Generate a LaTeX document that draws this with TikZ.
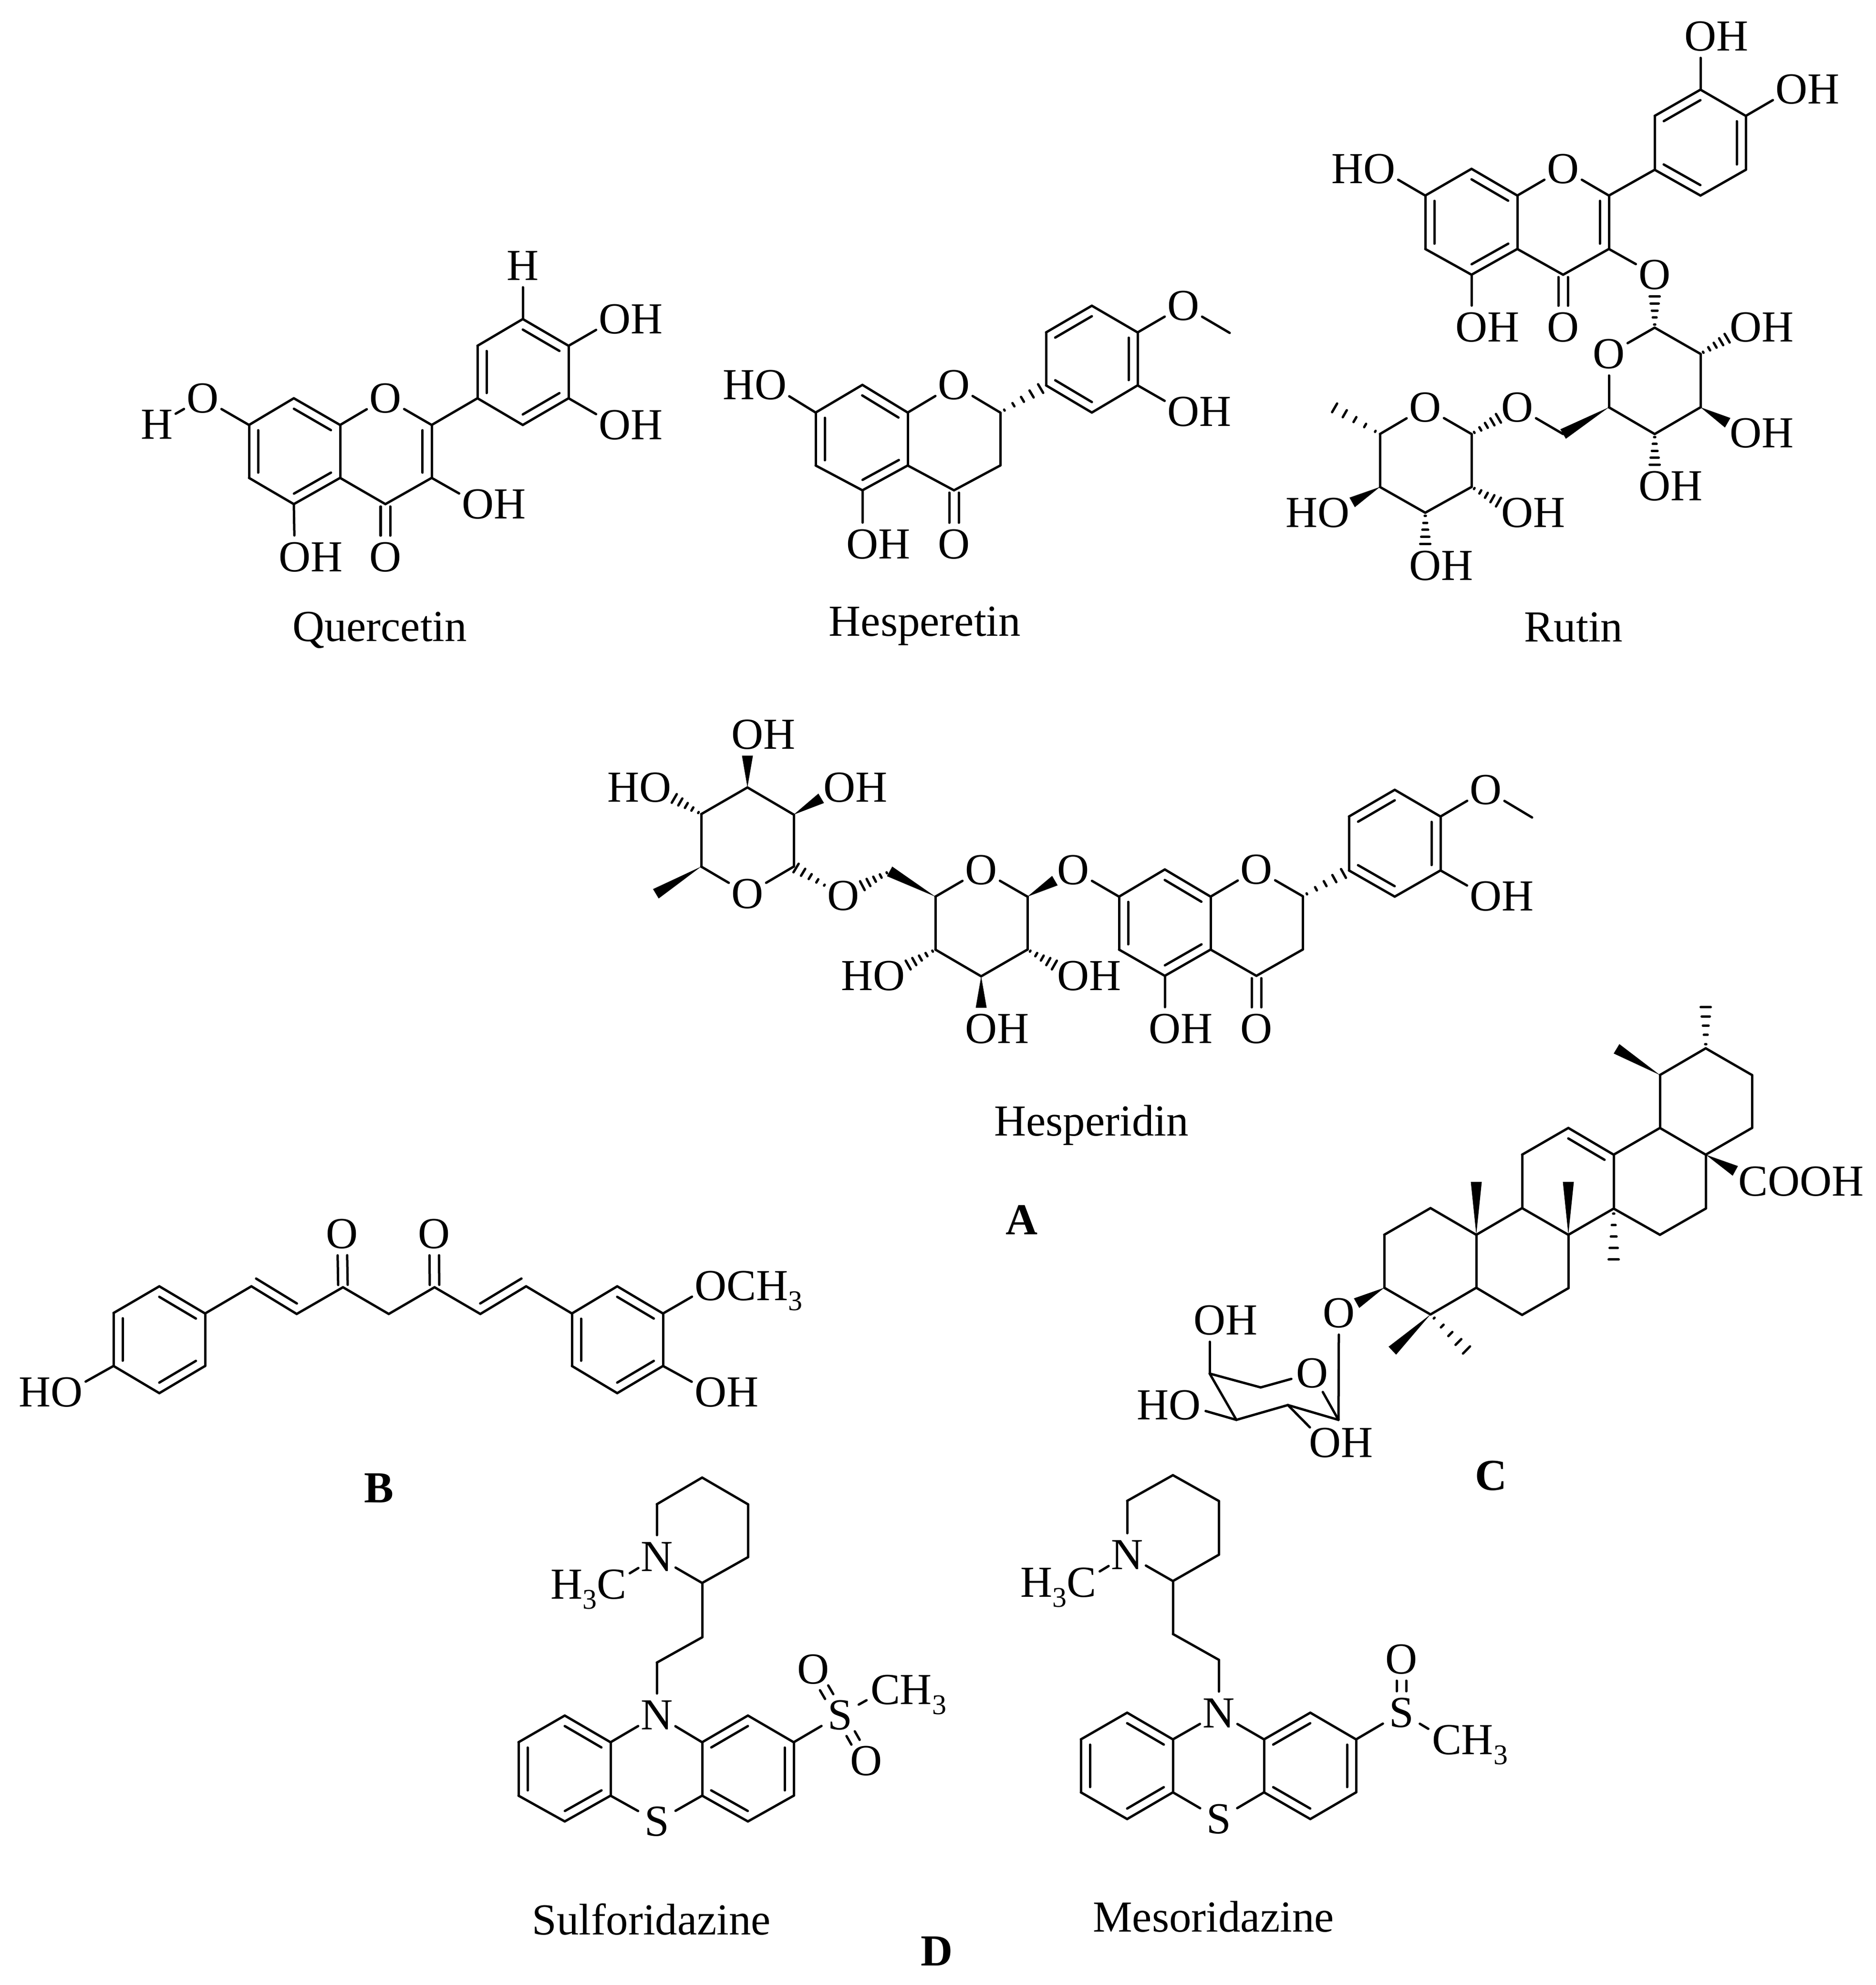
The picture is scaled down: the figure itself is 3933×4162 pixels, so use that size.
\documentclass[tikz,border=0pt]{standalone}
\usepackage{fontspec}
\setmainfont{Liberation Serif}
\usetikzlibrary{calc}
\newcommand{\chemfont}{\fontsize{26.4}{30}\selectfont}
\newcommand{\lowthree}{\raisebox{-6pt}{\fontsize{17}{20}\selectfont 3}}
\newcommand{\atomOH}{O\rlap{H}}
\newcommand{\atomHO}{\llap{H}O}
\newcommand{\atomOM}{O\rlap{CH\lowthree}}
\newcommand{\atomCM}{C\rlap{H\lowthree}}
\newcommand{\atomMC}{\llap{H\lowthree}C}
\tikzset{
    bond/.style={line width=0.05cm,line cap=round,line join=round},
    atom/.style={circle,inner sep=0pt,outer sep=0pt,minimum size=0.9cm,font=\chemfont,text height=17.4pt,text depth=0pt},
    caption/.style={inner sep=0pt,anchor=base,font=\chemfont},
    letter/.style={inner sep=0pt,anchor=base,font=\chemfont\bfseries}
}
% ring double bond, the short line lies to the right of a->b
\newcommand{\dblbond}[4]{
    \draw[bond] (#1) -- (#2);
    \coordinate (p) at ($(#1)!0.19cm!-90:(#2)$);
    \coordinate (q) at ($(#2)!0.19cm!90:(#1)$);
    \draw[bond] ($(p)!#3!(q)$) -- ($(p)!#4!(q)$);
}
\newcommand{\ringbond}[2]{\dblbond{#1}{#2}{.1}{.9}}
% double bond to a hetero atom, two equal lines
\newcommand{\twolines}[4]{
    \draw[bond,shorten <=#3,shorten >=#4] ($(#1)!0.1cm!90:(#2)$) -- ($(#2)!0.1cm!-90:(#1)$);
    \draw[bond,shorten <=#3,shorten >=#4] ($(#1)!0.1cm!-90:(#2)$) -- ($(#2)!0.1cm!90:(#1)$);
}
\newcommand{\wedgebond}[3]{
    \coordinate (w) at ($(#1)!#3!(#2)$);
    \fill (#1) -- ($(w)!0.115cm!90:(#1)$) -- ($(w)!0.115cm!-90:(#1)$) -- cycle;
}
\newcommand{\hashbond}[3]{
    \coordinate (w) at ($(#1)!#3!(#2)$);
    \foreach \f/\h in {.1/.012,.32/.04,.54/.06,.76/.085,.98/.105}
        \draw[bond] ($(#1)!\f!(w)!\h cm!90:(w)$) -- ($(#1)!\f!(w)!\h cm!-90:(w)$);
}
\begin{document}
\begin{tikzpicture}[x=0.01cm,y=-0.01cm]
    \useasboundingbox (0,0) rectangle (3933,4162);
    % quercetin
    \foreach \n/\x/\y in {qa1/522/891,qa2/616/835,qa3/713/891,qa4/713/1002,qa5/616/1057,qa6/522/1002,
        qc2/905/891,qc3/905/1002,qc4/808/1057,qb1/1001/835,qb2/1001/725,qb3/1096/669,qb4/1192/725,qb5/1192/835,qb6/1096/891}
        \coordinate (\n) at (\x,\y);
    \foreach \n/\x/\y/\t in {qo1/808/835/O,qo2/808/1168/O,qo3/425/835/O,qh1/329/890/H,qh2/1096/557/H,
        qo4/1289/669/\atomOH,qo5/1289/891/\atomOH,qo6/1002/1057/\atomOH,qo7/618/1168/\atomOH}
        \node[atom] (\n) at (\x,\y) {\t};
    \foreach \a/\b in {qa1/qa2,qa3/qa4,qa5/qa6,qa3/qo1,qo1/qc2,qc3/qc4,qc4/qa4,qa1/qo3,qo3/qh1,qc2/qb1,qb2/qb3,qb4/qb5,qb6/qb1,
        qb3/qh2,qb4/qo4,qb5/qo5,qc3/qo6,qa5/qo7}
        \draw[bond] (\a) -- (\b);
    \foreach \a/\b in {qa2/qa3,qa4/qa5,qa6/qa1,qc2/qc3,qb1/qb2,qb3/qb4,qb5/qb6}
        \ringbond{\a}{\b};
    \twolines{qc4}{qo2}{0.05cm}{0.45cm}
    \node[caption] (qname) at (796,1344) {Quercetin};
    % hesperetin
    \foreach \n/\x/\y in {hsa1/1710/865,hsa2/1808/807,hsa3/1903/865,hsa4/1903/976,hsa5/1808/1028,hsa6/1710/976,
        hsc2/2097/865,hsc3/2097/976,hsc4/2000/1028,hsb1/2193/808,hsb2/2193/697,hsb3/2289/641,hsb4/2385/697,hsb5/2385/808,hsb6/2289/865,hsm/2578/698}
        \coordinate (\n) at (\x,\y);
    \foreach \n/\x/\y/\t in {hso1/2000/807/O,hso2/2000/1141/O,hso3/1616/807/\atomHO,hso4/1808/1141/\atomOH,hso5/2481/641/O,hso6/2481/863/\atomOH}
        \node[atom] (\n) at (\x,\y) {\t};
    \foreach \a/\b in {hsa1/hsa2,hsa3/hsa4,hsa5/hsa6,hsa3/hso1,hso1/hsc2,hsc2/hsc3,hsc3/hsc4,hsc4/hsa4,hsa1/hso3,hsa5/hso4,
        hsb1/hsb2,hsb3/hsb4,hsb5/hsb6,hsb4/hso5,hso5/hsm,hsb5/hso6}
        \draw[bond] (\a) -- (\b);
    \foreach \a/\b in {hsa2/hsa3,hsa4/hsa5,hsa6/hsa1,hsb2/hsb3,hsb4/hsb5,hsb6/hsb1}
        \ringbond{\a}{\b};
    \hashbond{hsc2}{hsb1}{.9}
    \twolines{hsc4}{hso2}{0.05cm}{0.45cm}
    \node[caption] (hsname) at (1939,1333) {Hesperetin};
    % rutin
    \foreach \n/\x/\y in {rta1/2988/410,rta2/3085/354,rta3/3181/410,rta4/3181/522,rta5/3085/576,rta6/2988/522,
        rtc2/3373/410,rtc3/3373/522,rtc4/3277/576,rtb1/3469/356,rtb2/3469/243,rtb3/3565/188,rtb4/3660/243,rtb5/3660/356,rtb6/3565/410,
        rts1/3469/687,rts2/3565/742,rts3/3565/854,rts4/3469/910,rts5/3373/854,rtch/3277/910,
        rtr1/3085/910,rtr2/3085/1021,rtr3/2988/1075,rtr4/2893/1021,rtr5/2893/910,rtm/2796/854}
        \coordinate (\n) at (\x,\y);
    \foreach \n/\x/\y/\t in {rto1/3277/354/O,rto2/3277/686/O,rto3/2892/354/\atomHO,rto4/3085/686/\atomOH,rto5/3565/76/\atomOH,
        rto6/3756/187/\atomOH,rto7/3469/576/O,rto8/3373/742/O,rto9/3660/686/\atomOH,rto10/3660/908/\atomOH,rto11/3469/1019/\atomOH,
        rto12/3181/854/O,rto13/2988/854/O,rto14/2796/1075/\atomHO,rto15/3181/1075/\atomOH,rto16/2988/1186/\atomOH}
        \node[atom] (\n) at (\x,\y) {\t};
    \foreach \a/\b in {rta1/rta2,rta3/rta4,rta5/rta6,rta3/rto1,rto1/rtc2,rtc3/rtc4,rtc4/rta4,rta1/rto3,rta5/rto4,rtc2/rtb1,
        rtb1/rtb2,rtb3/rtb4,rtb5/rtb6,rtb3/rto5,rtb4/rto6,rtc3/rto7,rts1/rto8,rto8/rts5,rts1/rts2,rts2/rts3,rts3/rts4,rts4/rts5,
        rtch/rto12,rtr1/rto13,rto13/rtr5,rtr5/rtr4,rtr4/rtr3,rtr3/rtr2,rtr2/rtr1}
        \draw[bond] (\a) -- (\b);
    \foreach \a/\b in {rta2/rta3,rta4/rta5,rta6/rta1,rtc2/rtc3,rtb2/rtb3,rtb4/rtb5,rtb6/rtb1}
        \ringbond{\a}{\b};
    \foreach \a/\b/\f in {rts1/rto7/.6,rts2/rto9/.6,rts4/rto11/.6,rtr1/rto12/.6,rtr5/rtm/1,rtr2/rto15/.6,rtr3/rto16/.6}
        \hashbond{\a}{\b}{\f};
    \foreach \a/\b/\f in {rts3/rto10/.6,rts5/rtch/1,rtr4/rto14/.6}
        \wedgebond{\a}{\b}{\f};
    \twolines{rtc4}{rto2}{0.05cm}{0.45cm}
    \node[caption] (rtname) at (3299,1345) {Rutin};
    % hesperidin
    \foreach \n/\x/\y in {hdr1/1567/1651,hdr2/1664/1708,hdr3/1664/1817,hdr4/1470/1817,hdr5/1470/1707,hdm/1375/1874,hdq/1735/1860,
        hdch/1865/1827,hds5/1961/1880,hds1/2154/1880,hds2/2154/1991,hds3/2057/2047,hds4/1961/1991,
        hda1/2346/1880,hda2/2442/1823,hda3/2538/1880,hda4/2538/1991,hda5/2442/2046,hda6/2346/1991,
        hdc2/2731/1879,hdc3/2731/1991,hdc4/2634/2046,hdb1/2828/1825,hdb2/2828/1712,hdb3/2924/1656,hdb4/3020/1712,hdb5/3020/1825,hdb6/2924/1880,hdn/3212/1714}
        \coordinate (\n) at (\x,\y);
    \foreach \n/\x/\y/\t in {hdo1/1567/1540/\atomOH,hdo2/1374/1651/\atomHO,hdo3/1760/1651/\atomOH,hdo4/1567/1874/O,hdo5/1768/1878/O,
        hdo6/2057/1824/O,hdo7/2250/1824/O,hdo8/1864/2046/\atomHO,hdo9/2250/2046/\atomOH,hdo10/2057/2157/\atomOH,hdo11/2634/1823/O,
        hdo12/2442/2157/\atomOH,hdo13/2634/2157/O,hdo14/3115/1656/O,hdo15/3115/1879/\atomOH}
        \node[atom] (\n) at (\x,\y) {\t};
    \foreach \a/\b in {hdr1/hdr2,hdr2/hdr3,hdr3/hdo4,hdo4/hdr4,hdr4/hdr5,hdr5/hdr1,hds5/hdo6,hdo6/hds1,hds1/hds2,hds2/hds3,hds3/hds4,hds4/hds5,
        hdo7/hda1,hda1/hda2,hda3/hda4,hda5/hda6,hda3/hdo11,hdo11/hdc2,hdc2/hdc3,hdc3/hdc4,hdc4/hda4,hda5/hdo12,
        hdb1/hdb2,hdb3/hdb4,hdb5/hdb6,hdb4/hdo14,hdo14/hdn,hdb5/hdo15}
        \draw[bond] (\a) -- (\b);
    \foreach \a/\b in {hda2/hda3,hda4/hda5,hda6/hda1,hdb2/hdb3,hdb4/hdb5,hdb6/hdb1}
        \ringbond{\a}{\b};
    \foreach \a/\b/\f in {hdr5/hdo2/.6,hdq/hdr3/.95,hdch/hdo5/.6,hds4/hdo8/.6,hds2/hdo9/.6,hdc2/hdb1/.9}
        \hashbond{\a}{\b}{\f};
    \foreach \a/\b/\f in {hdr1/hdo1/.6,hdr2/hdo3/.6,hdr4/hdm/1,hds5/hdch/1,hds1/hdo7/.6,hds3/hdo10/.6}
        \wedgebond{\a}{\b}{\f};
    \twolines{hdc4}{hdo13}{0.05cm}{0.45cm}
    \node[caption] (hdname) at (2288,2381) {Hesperidin};
    \node[letter] (lettera) at (2142,2588) {A};
    % curcumin
    \foreach \n/\x/\y in {cua1/334/2697,cua2/430/2754,cua3/430/2864,cua4/334/2921,cua5/238/2864,cua6/238/2753,
        cuc1/527/2697,cuc2/622/2755,cuc3/719/2699,cuc4/815/2755,cuc5/911/2699,cuc6/1007/2755,cuc7/1103/2697,
        cub1/1199/2754,cub2/1294/2697,cub3/1390/2754,cub4/1390/2864,cub5/1294/2921,cub6/1199/2864}
        \coordinate (\n) at (\x,\y);
    \foreach \n/\x/\y/\t in {cuo1/717/2587/O,cuo2/910/2587/O,cuo3/140/2919/\atomHO,cuo4/1490/2696/\atomOM,cuo5/1490/2919/\atomOH}
        \node[atom] (\n) at (\x,\y) {\t};
    \foreach \a/\b in {cua2/cua3,cua4/cua5,cua6/cua1,cua2/cuc1,cuc2/cuc3,cuc3/cuc4,cuc4/cuc5,cuc5/cuc6,cuc7/cub1,
        cub1/cub2,cub3/cub4,cub5/cub6,cua5/cuo3,cub3/cuo4,cub4/cuo5}
        \draw[bond] (\a) -- (\b);
    \foreach \a/\b in {cua1/cua2,cua3/cua4,cua5/cua6,cub2/cub3,cub4/cub5,cub6/cub1}
        \ringbond{\a}{\b};
    \dblbond{cuc2}{cuc1}{.1}{1}
    \dblbond{cuc7}{cuc6}{0}{.9}
    \twolines{cuc3}{cuo1}{0.05cm}{0.45cm}
    \twolines{cuc5}{cuo2}{0.05cm}{0.45cm}
    \node[letter] (letterb) at (794,3150) {B};
    % triterpene with its sugar
    \foreach \n/\x/\y in {ure1/3576/2198,ure2/3673/2254,ure3/3673/2365,ure4/3576/2421,ure5/3480/2365,ure6/3480/2254,
        urd1/3383/2421,urd2/3383/2534,urd3/3480/2589,urd4/3576/2534,urc1/3288/2365,urc2/3191/2421,urc3/3191/2533,urc4/3288/2589,
        urb1/3288/2701,urb2/3191/2757,urb3/3095/2700,urb4/3095/2589,ura1/2999/2533,ura2/2902/2589,ura3/2902/2700,ura4/2999/2756,
        urm1/3576/2110,urm2/3389/2199,urm3/3095/2478,urm4/3288/2478,urm5/3383/2643,urm6/2919/2832,urm7/3076/2832,urw/3638/2455,
        uxs1/2806/2977,uxs2/2700/2946,uxs3/2592/2977,uxs4/2536/2880,uxs5/2643/2909}
        \coordinate (\n) at (\x,\y);
    \foreach \n/\x/\y/\t in {uro1/2807/2753/O,uxo1/2751/2879/O,uxo2/2536/2768/\atomOH,uxo3/2484/2946/\atomHO,uxo4/2778/3025/\atomOH}
        \node[atom] (\n) at (\x,\y) {\t};
    \node[caption,anchor=base west] (urcooh) at (3644,2507) {COOH};
    \foreach \a/\b in {ure1/ure2,ure2/ure3,ure3/ure4,ure4/ure5,ure5/ure6,ure6/ure1,ure5/urd1,urd1/urd2,urd2/urd3,urd3/urd4,urd4/ure4,
        urd2/urc4,urc4/urc3,urc3/urc2,urc2/urc1,urc4/urb1,urb1/urb2,urb2/urb3,urb3/urb4,urb4/urc3,urb4/ura1,ura1/ura2,ura2/ura3,ura3/ura4,ura4/urb3,
        uro1/uxs1,uxs1/uxo1,uxo1/uxs5,uxs5/uxs4,uxs4/uxs3,uxs3/uxs2,uxs2/uxs1,uxs4/uxo2,uxs3/uxo3,uxs2/uxo4}
        \draw[bond] (\a) -- (\b);
    \ringbond{urc1}{urd1}
    \foreach \a/\b/\f in {ure1/urm1/1,urd2/urm5/1,ura4/urm7/1}
        \hashbond{\a}{\b}{\f};
    \foreach \a/\b/\f in {ure6/urm2/1,ure4/urw/1,urb4/urm3/1,urc4/urm4/1,ura4/urm6/1,ura3/uro1/.61}
        \wedgebond{\a}{\b}{\f};
    \node[letter] (letterc) at (3126,3124) {C};
    % sulforidazine
    \foreach \n/\x/\y in {sfp1/1472/3098,sfp2/1568/3154,sfp3/1568/3265,sfp4/1472/3319,sfp5/1377/3154,sfl1/1472/3433,sfl2/1377/3486,
        sfa1/1280/3653,sfa2/1184/3597,sfa3/1087/3653,sfa4/1087/3765,sfa5/1184/3819,sfa6/1280/3765,
        sfb1/1472/3653,sfb2/1568/3597,sfb3/1664/3653,sfb4/1664/3765,sfb5/1568/3819,sfb6/1472/3765}
        \coordinate (\n) at (\x,\y);
    \foreach \n/\x/\y/\t in {sfn1/1377/3264/N,sfc/1282/3322/\atomMC,sfn2/1377/3596/N,sfs1/1377/3819/S,sfs2/1761/3596/S,
        sfo1/1705/3500/O,sfo2/1816/3692/O,sfm/1856/3543/\atomCM}
        \node[atom] (\n) at (\x,\y) {\t};
    \foreach \a/\b in {sfn1/sfp5,sfp5/sfp1,sfp1/sfp2,sfp2/sfp3,sfp3/sfp4,sfp4/sfn1,sfn1/sfc,sfp4/sfl1,sfl1/sfl2,sfl2/sfn2,
        sfn2/sfa1,sfa2/sfa3,sfa4/sfa5,sfa6/sfa1,sfa6/sfs1,sfs1/sfb6,sfn2/sfb1,sfb1/sfb6,sfb2/sfb3,sfb4/sfb5,sfb3/sfs2,sfs2/sfm}
        \draw[bond] (\a) -- (\b);
    \foreach \a/\b in {sfa2/sfa1,sfa4/sfa3,sfa6/sfa5,sfb1/sfb2,sfb3/sfb4,sfb5/sfb6}
        \ringbond{\a}{\b};
    \twolines{sfs2}{sfo1}{0.45cm}{0.45cm}
    \twolines{sfs2}{sfo2}{0.45cm}{0.45cm}
    \node[caption] (sfname) at (1366,4056) {Sulforidazine};
    \node[letter] (letterd) at (1964,4121) {D};
    % mesoridazine
    \foreach \n/\x/\y in {msp1/2459/3093,msp2/2555/3147,msp3/2555/3260,msp4/2459/3315,msp5/2363/3147,msl1/2459/3426,msl2/2555/3480,
        msa1/2459/3647,msa2/2363/3591,msa3/2266/3647,msa4/2266/3758,msa5/2363/3814,msa6/2459/3758,
        msb1/2650/3647,msb2/2747/3591,msb3/2843/3647,msb4/2843/3758,msb5/2747/3814,msb6/2650/3758}
        \coordinate (\n) at (\x,\y);
    \foreach \n/\x/\y/\t in {msn1/2363/3260/N,msc/2267/3318/\atomMC,msn2/2555/3592/N,mss1/2555/3814/S,mss2/2938/3591/S,
        mso1/2938/3479/O,msm/3033/3648/\atomCM}
        \node[atom] (\n) at (\x,\y) {\t};
    \foreach \a/\b in {msn1/msp5,msp5/msp1,msp1/msp2,msp2/msp3,msp3/msp4,msp4/msn1,msn1/msc,msp4/msl1,msl1/msl2,msl2/msn2,
        msn2/msa1,msa2/msa3,msa4/msa5,msa6/msa1,msa6/mss1,mss1/msb6,msn2/msb1,msb1/msb6,msb2/msb3,msb4/msb5,msb3/mss2,mss2/msm}
        \draw[bond] (\a) -- (\b);
    \foreach \a/\b in {msa2/msa1,msa4/msa3,msa6/msa5,msb1/msb2,msb3/msb4,msb5/msb6}
        \ringbond{\a}{\b};
    \twolines{mss2}{mso1}{0.45cm}{0.45cm}
    \node[caption] (msname) at (2544,4050) {Mesoridazine};
\end{tikzpicture}
\end{document}
